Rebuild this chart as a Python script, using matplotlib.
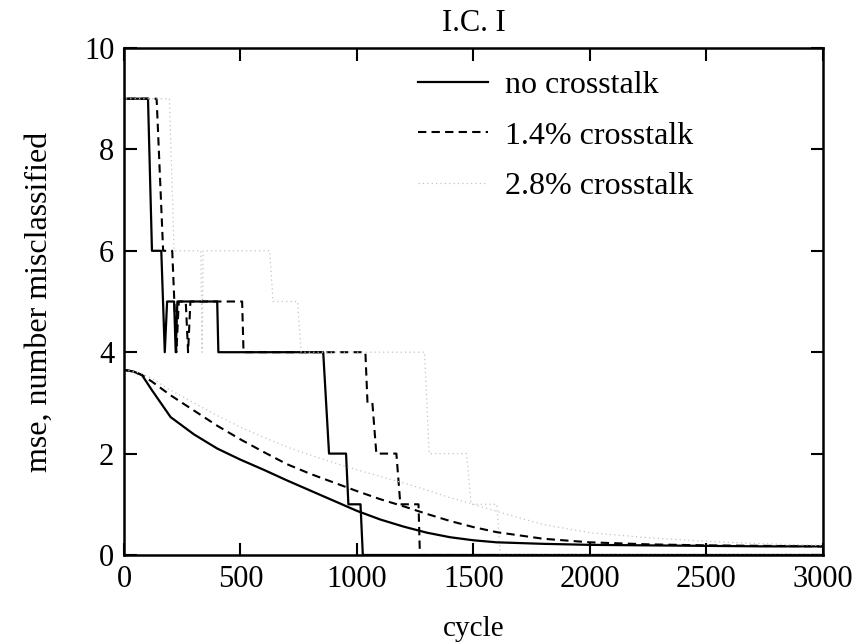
import matplotlib

matplotlib.use("Agg")
import matplotlib.pyplot as plt

# number misclassified (step curves)
cyc_err_0 = [0, 0, 103, 120, 160, 175, 185, 215, 222, 229, 400, 405, 855, 880, 953, 963, 1015, 1025, 3000]
err_0 = [10, 9, 9, 6, 6, 4, 5, 5, 4, 5, 5, 4, 4, 2, 2, 1, 1, 0, 0]

cyc_err_14 = [0, 0, 140, 168, 207, 225, 235, 265, 275, 285, 507, 513, 1036, 1045, 1066, 1083, 1169, 1186, 1264, 1270, 3000]
err_14 = [10, 9, 9, 6, 6, 4, 5, 5, 4, 5, 5, 4, 4, 3, 3, 2, 2, 1, 1, 0, 0]

cyc_err_28 = [0, 0, 195, 215, 330, 335, 340, 625, 640, 745, 760, 1290, 1310, 1470, 1490, 1600, 1615, 3000]
err_28 = [10, 9, 9, 6, 6, 4, 6, 6, 5, 5, 4, 4, 2, 2, 1, 1, 0, 0]

# mean squared error
cyc_mse = [0, 40, 77, 120, 200, 300, 400, 500, 600, 700, 800, 900, 1000, 1100, 1200,
           1300, 1400, 1500, 1600, 1800, 2000, 2250, 2500, 2750, 3000]
mse_0 = [3.65, 3.62, 3.55, 3.25, 2.72, 2.38, 2.1, 1.88, 1.68, 1.47, 1.27, 1.07, 0.87, 0.7, 0.56,
         0.44, 0.35, 0.29, 0.25, 0.22, 0.2, 0.19, 0.18, 0.17, 0.17]
mse_14 = [3.65, 3.62, 3.55, 3.42, 3.15, 2.85, 2.55, 2.28, 2.03, 1.79, 1.6, 1.43, 1.26, 1.1, 0.96,
          0.81, 0.67, 0.55, 0.45, 0.32, 0.25, 0.21, 0.19, 0.18, 0.17]
mse_28 = [3.65, 3.62, 3.58, 3.48, 3.25, 3.0, 2.75, 2.52, 2.32, 2.13, 1.97, 1.82, 1.68, 1.55, 1.42,
          1.28, 1.13, 1.0, 0.86, 0.6, 0.44, 0.34, 0.27, 0.22, 0.19]

labels = ["no crosstalk", "1.4% crosstalk", "2.8% crosstalk"]

plt.rcParams["font.family"] = ["Liberation Serif", "DejaVu Serif"]

fig = plt.figure(figsize=(8.56, 6.44), dpi=100)
ax = fig.add_axes([124 / 856, 89 / 644, 699 / 856, 507 / 644])

solid = dict(color="black", linewidth=1.6, linestyle="-")
dashed = dict(color="black", linewidth=1.5, linestyle=(0, (4, 2.5)))
dotted = dict(color="#c4c4c4", linewidth=0.9, linestyle=(0, (1, 2.5)))

ax.plot(cyc_err_0, err_0, label=labels[0], **solid)
ax.plot(cyc_err_14, err_14, label=labels[1], **dashed)
ax.plot(cyc_err_28, err_28, label=labels[2], **dotted)
ax.plot(cyc_mse, mse_0, **solid)
ax.plot(cyc_mse, mse_14, **dashed)
ax.plot(cyc_mse, mse_28, **dotted)

ax.set_xlim(0, 3000)
ax.set_ylim(0, 10)
ax.set_xticks(range(0, 3001, 500))
ax.set_yticks(range(0, 11, 2))
ax.tick_params(direction="in", length=9, width=1.5, top=True, right=True,
               labelsize=22, pad=7)
for spine in ax.spines.values():
    spine.set_linewidth(1.8)

ax.set_title("I.C. I", fontsize=22, pad=12)
ax.set_xlabel("cycle", fontsize=21, labelpad=16)
ax.set_ylabel("mse, number misclassified", fontsize=23, labelpad=22)

ax.legend(loc="upper left", bbox_to_anchor=(0.42, 0.955), frameon=False,
          fontsize=23, handlelength=2.2, handletextpad=0.55, labelspacing=0.66,
          borderaxespad=0, borderpad=0)

fig.savefig("out.png", dpi=100)
